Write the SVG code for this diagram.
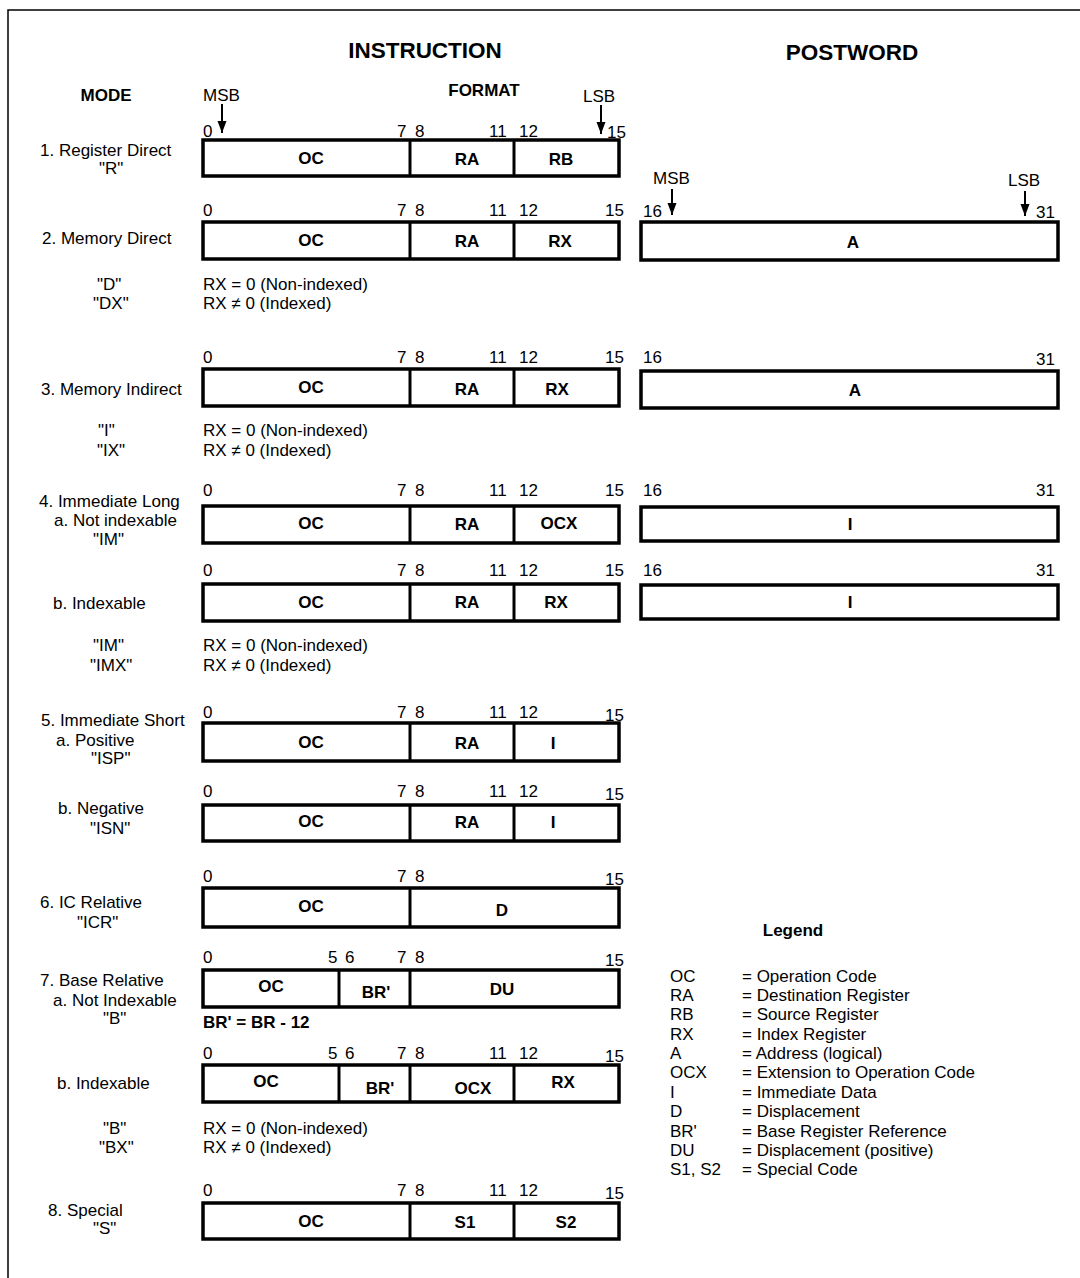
<svg xmlns="http://www.w3.org/2000/svg" width="1080" height="1278" viewBox="0 0 1080 1278">
<defs>
<style>
text{font-family:"Liberation Sans",Arial,sans-serif;fill:#000}
.t{font-size:17px}
.b{font-size:17px;font-weight:bold}
.h{font-size:22.5px;font-weight:bold}
.c{text-anchor:middle}
.e{text-anchor:end}
.box{fill:#fff;stroke:#000;stroke-width:3.5}
.div{stroke:#000;stroke-width:3}
.arr{stroke:#000;stroke-width:2;fill:none}
.frame{stroke:#000;stroke-width:1.5;fill:none}
</style>
<marker id="ah" markerUnits="userSpaceOnUse" markerWidth="12" markerHeight="10" refX="12" refY="5" orient="auto" viewBox="0 0 12 10">
<path d="M0,0.5 L12,5 L0,9.5 Z" fill="#000"/>
</marker>
</defs>
<rect width="1080" height="1278" fill="#fff"/>
<path class="frame" d="M8,1278 L8,10 L1080,10"/>

<g id="headers">
<text class="h c" x="425" y="58">INSTRUCTION</text>
<text class="h c" x="852" y="60">POSTWORD</text>
<text class="b c" x="106" y="101">MODE</text>
<text class="b c" x="484" y="96">FORMAT</text>
<text class="t" x="203" y="101">MSB</text>
<text class="t" x="583" y="102">LSB</text>
<text class="t" x="653" y="184">MSB</text>
<text class="t" x="1008" y="186">LSB</text>
</g>

<g id="connectors">
<line class="arr" x1="222" y1="104" x2="222" y2="133" marker-end="url(#ah)"/>
<line class="arr" x1="601" y1="105" x2="601" y2="134" marker-end="url(#ah)"/>
<line class="arr" x1="672" y1="189" x2="672" y2="215" marker-end="url(#ah)"/>
<line class="arr" x1="1025" y1="191" x2="1025" y2="216" marker-end="url(#ah)"/>
</g>

<g id="mode-labels" class="t">
<text x="40" y="156">1. Register Direct</text>
<text x="99" y="174">"R"</text>
<text x="42" y="244">2. Memory Direct</text>
<text x="97" y="290">"D"</text>
<text x="93" y="309">"DX"</text>
<text x="41" y="395">3. Memory Indirect</text>
<text x="98" y="436">"I"</text>
<text x="97" y="456">"IX"</text>
<text x="39" y="507">4. Immediate Long</text>
<text x="54" y="526">a. Not indexable</text>
<text x="93" y="545">"IM"</text>
<text x="53" y="609">b. Indexable</text>
<text x="93" y="651">"IM"</text>
<text x="90" y="671">"IMX"</text>
<text x="41" y="726">5. Immediate Short</text>
<text x="56" y="746">a. Positive</text>
<text x="91" y="764">"ISP"</text>
<text x="58" y="814">b. Negative</text>
<text x="90" y="834">"ISN"</text>
<text x="40" y="908">6. IC Relative</text>
<text x="77" y="928">"ICR"</text>
<text x="40" y="986">7. Base Relative</text>
<text x="53" y="1006">a. Not Indexable</text>
<text x="103" y="1024">"B"</text>
<text x="57" y="1089">b. Indexable</text>
<text x="103" y="1134">"B"</text>
<text x="99" y="1153">"BX"</text>
<text x="48" y="1216">8. Special</text>
<text x="93" y="1234">"S"</text>
</g>

<g id="notes" class="t">
<text x="203" y="290">RX = 0 (Non-indexed)</text>
<text x="203" y="309">RX ≠ 0 (Indexed)</text>
<text x="203" y="436">RX = 0 (Non-indexed)</text>
<text x="203" y="456">RX ≠ 0 (Indexed)</text>
<text x="203" y="651">RX = 0 (Non-indexed)</text>
<text x="203" y="671">RX ≠ 0 (Indexed)</text>
<text x="203" y="1134">RX = 0 (Non-indexed)</text>
<text x="203" y="1153">RX ≠ 0 (Indexed)</text>
<text class="b" x="203" y="1028">BR' = BR - 12</text>
</g>

<g id="row1">
<text class="t" x="203" y="137">0</text><text class="t" x="397" y="137">7</text><text class="t" x="415" y="137">8</text><text class="t" x="489" y="137">11</text><text class="t" x="519" y="137">12</text><text class="t" x="607" y="138">15</text>
<rect class="box" x="203" y="140" width="416" height="36"/>
<line class="div" x1="410" y1="140" x2="410" y2="176"/><line class="div" x1="514" y1="140" x2="514" y2="176"/>
<text class="b c" x="311" y="164">OC</text><text class="b c" x="467" y="165">RA</text><text class="b c" x="561" y="165">RB</text>
</g>

<g id="row2">
<text class="t" x="203" y="216">0</text><text class="t" x="397" y="216">7</text><text class="t" x="415" y="216">8</text><text class="t" x="489" y="216">11</text><text class="t" x="519" y="216">12</text><text class="t" x="605" y="216">15</text>
<rect class="box" x="203" y="222" width="416" height="37"/>
<line class="div" x1="410" y1="222" x2="410" y2="259"/><line class="div" x1="514" y1="222" x2="514" y2="259"/>
<text class="b c" x="311" y="246">OC</text><text class="b c" x="467" y="247">RA</text><text class="b c" x="560" y="247">RX</text>
</g>
<g id="postword2">
<text class="t" x="643" y="217">16</text><text class="t e" x="1055" y="218">31</text>
<rect class="box" x="641" y="222" width="417" height="38"/>
<text class="b c" x="853" y="248">A</text>
</g>

<g id="row3">
<text class="t" x="203" y="363">0</text><text class="t" x="397" y="363">7</text><text class="t" x="415" y="363">8</text><text class="t" x="489" y="363">11</text><text class="t" x="519" y="363">12</text><text class="t" x="605" y="363">15</text>
<rect class="box" x="203" y="369" width="416" height="37"/>
<line class="div" x1="410" y1="369" x2="410" y2="406"/><line class="div" x1="514" y1="369" x2="514" y2="406"/>
<text class="b c" x="311" y="393">OC</text><text class="b c" x="467" y="395">RA</text><text class="b c" x="557" y="395">RX</text>
</g>
<g id="postword3">
<text class="t" x="643" y="363">16</text><text class="t e" x="1055" y="365">31</text>
<rect class="box" x="641" y="371" width="417" height="37"/>
<text class="b c" x="855" y="396">A</text>
</g>

<g id="row4a">
<text class="t" x="203" y="496">0</text><text class="t" x="397" y="496">7</text><text class="t" x="415" y="496">8</text><text class="t" x="489" y="496">11</text><text class="t" x="519" y="496">12</text><text class="t" x="605" y="496">15</text>
<rect class="box" x="203" y="506" width="416" height="37"/>
<line class="div" x1="410" y1="506" x2="410" y2="543"/><line class="div" x1="514" y1="506" x2="514" y2="543"/>
<text class="b c" x="311" y="529">OC</text><text class="b c" x="467" y="530">RA</text><text class="b c" x="559" y="529">OCX</text>
</g>
<g id="postword4a">
<text class="t" x="643" y="496">16</text><text class="t e" x="1055" y="496">31</text>
<rect class="box" x="641" y="507" width="417" height="34"/>
<text class="b c" x="850" y="530">I</text>
</g>

<g id="row4b">
<text class="t" x="203" y="576">0</text><text class="t" x="397" y="576">7</text><text class="t" x="415" y="576">8</text><text class="t" x="489" y="576">11</text><text class="t" x="519" y="576">12</text><text class="t" x="605" y="576">15</text>
<rect class="box" x="203" y="584" width="416" height="37"/>
<line class="div" x1="410" y1="584" x2="410" y2="621"/><line class="div" x1="514" y1="584" x2="514" y2="621"/>
<text class="b c" x="311" y="608">OC</text><text class="b c" x="467" y="608">RA</text><text class="b c" x="556" y="608">RX</text>
</g>
<g id="postword4b">
<text class="t" x="643" y="576">16</text><text class="t e" x="1055" y="576">31</text>
<rect class="box" x="641" y="585" width="417" height="34"/>
<text class="b c" x="850" y="608">I</text>
</g>

<g id="row5a">
<text class="t" x="203" y="718">0</text><text class="t" x="397" y="718">7</text><text class="t" x="415" y="718">8</text><text class="t" x="489" y="718">11</text><text class="t" x="519" y="718">12</text><text class="t" x="605" y="721">15</text>
<rect class="box" x="203" y="723" width="416" height="38"/>
<line class="div" x1="410" y1="723" x2="410" y2="761"/><line class="div" x1="514" y1="723" x2="514" y2="761"/>
<text class="b c" x="311" y="748">OC</text><text class="b c" x="467" y="749">RA</text><text class="b c" x="553" y="749">I</text>
</g>

<g id="row5b">
<text class="t" x="203" y="797">0</text><text class="t" x="397" y="797">7</text><text class="t" x="415" y="797">8</text><text class="t" x="489" y="797">11</text><text class="t" x="519" y="797">12</text><text class="t" x="605" y="800">15</text>
<rect class="box" x="203" y="805" width="416" height="36"/>
<line class="div" x1="410" y1="805" x2="410" y2="841"/><line class="div" x1="514" y1="805" x2="514" y2="841"/>
<text class="b c" x="311" y="827">OC</text><text class="b c" x="467" y="828">RA</text><text class="b c" x="553" y="828">I</text>
</g>

<g id="row6">
<text class="t" x="203" y="882">0</text><text class="t" x="397" y="882">7</text><text class="t" x="415" y="882">8</text><text class="t" x="605" y="885">15</text>
<rect class="box" x="203" y="888" width="416" height="39"/>
<line class="div" x1="410" y1="888" x2="410" y2="927"/>
<text class="b c" x="311" y="912">OC</text><text class="b c" x="502" y="916">D</text>
</g>

<g id="row7a">
<text class="t" x="203" y="963">0</text><text class="t" x="328" y="963">5</text><text class="t" x="345" y="963">6</text><text class="t" x="397" y="963">7</text><text class="t" x="415" y="963">8</text><text class="t" x="605" y="966">15</text>
<rect class="box" x="203" y="970" width="416" height="37"/>
<line class="div" x1="339" y1="970" x2="339" y2="1007"/><line class="div" x1="410" y1="970" x2="410" y2="1007"/>
<text class="b c" x="271" y="992">OC</text><text class="b c" x="376" y="998">BR'</text><text class="b c" x="502" y="995">DU</text>
</g>

<g id="row7b">
<text class="t" x="203" y="1059">0</text><text class="t" x="328" y="1059">5</text><text class="t" x="345" y="1059">6</text><text class="t" x="397" y="1059">7</text><text class="t" x="415" y="1059">8</text><text class="t" x="489" y="1059">11</text><text class="t" x="519" y="1059">12</text><text class="t" x="605" y="1062">15</text>
<rect class="box" x="203" y="1065" width="416" height="37"/>
<line class="div" x1="339" y1="1065" x2="339" y2="1102"/><line class="div" x1="410" y1="1065" x2="410" y2="1102"/><line class="div" x1="514" y1="1065" x2="514" y2="1102"/>
<text class="b c" x="266" y="1087">OC</text><text class="b c" x="380" y="1094">BR'</text><text class="b c" x="473" y="1094">OCX</text><text class="b c" x="563" y="1088">RX</text>
</g>

<g id="row8">
<text class="t" x="203" y="1196">0</text><text class="t" x="397" y="1196">7</text><text class="t" x="415" y="1196">8</text><text class="t" x="489" y="1196">11</text><text class="t" x="519" y="1196">12</text><text class="t" x="605" y="1199">15</text>
<rect class="box" x="203" y="1203" width="416" height="36"/>
<line class="div" x1="410" y1="1203" x2="410" y2="1239"/><line class="div" x1="514" y1="1203" x2="514" y2="1239"/>
<text class="b c" x="311" y="1227">OC</text><text class="b c" x="465" y="1228">S1</text><text class="b c" x="566" y="1228">S2</text>
</g>

<g id="legend" class="t">
<text class="b c" x="793" y="936">Legend</text>
<text x="670" y="982">OC</text><text x="742" y="982">= Operation Code</text>
<text x="670" y="1001">RA</text><text x="742" y="1001">= Destination Register</text>
<text x="670" y="1020">RB</text><text x="742" y="1020">= Source Register</text>
<text x="670" y="1040">RX</text><text x="742" y="1040">= Index Register</text>
<text x="670" y="1059">A</text><text x="742" y="1059">= Address (logical)</text>
<text x="670" y="1078">OCX</text><text x="742" y="1078">= Extension to Operation Code</text>
<text x="670" y="1098">I</text><text x="742" y="1098">= Immediate Data</text>
<text x="670" y="1117">D</text><text x="742" y="1117">= Displacement</text>
<text x="670" y="1137">BR'</text><text x="742" y="1137">= Base Register Reference</text>
<text x="670" y="1156">DU</text><text x="742" y="1156">= Displacement (positive)</text>
<text x="670" y="1175">S1, S2</text><text x="742" y="1175">= Special Code</text>
</g>
</svg>
